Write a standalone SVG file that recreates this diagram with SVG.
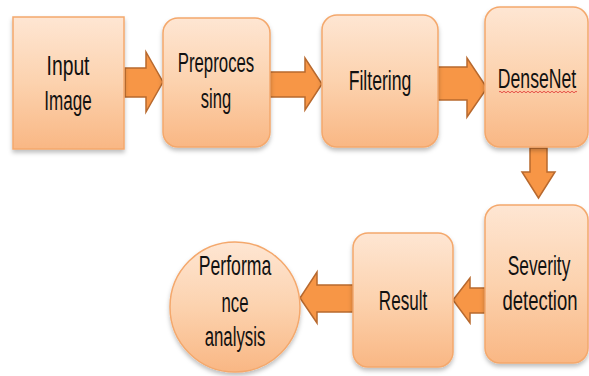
<svg xmlns="http://www.w3.org/2000/svg" width="589" height="376" viewBox="0 0 589 376">
<defs>
<linearGradient id="g" x1="0" y1="0" x2="0" y2="1">
<stop offset="0" stop-color="#fee6d3"/>
<stop offset="0.5" stop-color="#fcd2ae"/>
<stop offset="1" stop-color="#f9b784"/>
</linearGradient>
<filter id="sh" x="-10%" y="-10%" width="120%" height="125%">
<feDropShadow dx="0" dy="3" stdDeviation="2" flood-color="#000" flood-opacity="0.25"/>
</filter>
</defs>
<style>
.n{fill:url(#g);stroke:#f4a86c;stroke-width:1.5;filter:url(#sh)}
.t{font-family:"Liberation Sans",sans-serif;font-size:28px;fill:#111;text-anchor:middle}
.a{fill:#f79646;stroke:#b8692e;stroke-width:1.5;stroke-linejoin:miter}
</style>
<rect width="589" height="376" fill="#fff"/>
<g id="connectors">
<polygon class="a" points="125,68 146,68 146,52 163,82 146,112 146,97 125,97"/>
<polygon class="a" points="270,72 305,72 305,58 322,84 305,110 305,97 270,97"/>
<polygon class="a" points="438,67 467,67 467,58 487,88 467,117 467,100 438,100"/>
<polygon class="a" points="530,148 547,148 547,172 555,172 538.5,198 522,172 530,172"/>
<polygon class="a" points="485,288 470,288 470,278 453,300 470,323 470,313 485,313"/>
<polygon class="a" points="353,285 317,285 317,272 300,298 317,323 317,312 353,312"/>
</g>
<g id="input">
<rect class="n" x="13" y="17" width="111" height="132"/>
<text class="t" transform="translate(68,75) scale(0.69,1)">Input</text>
<text class="t" transform="translate(68,110) scale(0.61,1)">Image</text>
</g>
<g id="preprocessing">
<rect class="n" x="163" y="18" width="107" height="129" rx="15"/>
<text class="t" transform="translate(216,72) scale(0.6,1)">Preproces</text>
<text class="t" transform="translate(216,108) scale(0.59,1)">sing</text>
</g>
<g id="filtering">
<rect class="n" x="322" y="15" width="116" height="132" rx="15"/>
<text class="t" transform="translate(380,90) scale(0.63,1)">Filtering</text>
</g>
<g id="densenet">
<rect class="n" x="485" y="7" width="103" height="140" rx="15"/>
<text class="t" transform="translate(537,88) scale(0.63,1)">DenseNet</text>
<path d="M499,92 q1,-1.5 2,0 t2,0 t2,0 t2,0 t2,0 t2,0 t2,0 t2,0 t2,0 t2,0 t2,0 t2,0 t2,0 t2,0 t2,0 t2,0 t2,0 t2,0 t2,0 t2,0 t2,0 t2,0 t2,0 t2,0 t2,0 t2,0 t2,0 t2,0 t2,0 t2,0 t2,0 t2,0 t2,0 t2,0 t2,0 t2,0 t2,0 t2,0 t2,0" fill="none" stroke="#e03030" stroke-width="0.8"/>
</g>
<g id="severity">
<rect class="n" x="485" y="205" width="103" height="158" rx="15"/>
<text class="t" transform="translate(539,275) scale(0.62,1)">Severity</text>
<text class="t" transform="translate(540,310) scale(0.66,1)">detection</text>
</g>
<g id="result">
<rect class="n" x="353" y="233" width="100" height="134" rx="15"/>
<text class="t" transform="translate(403,310) scale(0.61,1)">Result</text>
</g>
<g id="performance">
<circle class="n" cx="235" cy="307" r="65"/>
<text class="t" transform="translate(235,275) scale(0.63,1)">Performa</text>
<text class="t" transform="translate(235,312) scale(0.6,1)">nce</text>
<text class="t" transform="translate(235,346) scale(0.6,1)">analysis</text>
</g>
</svg>
